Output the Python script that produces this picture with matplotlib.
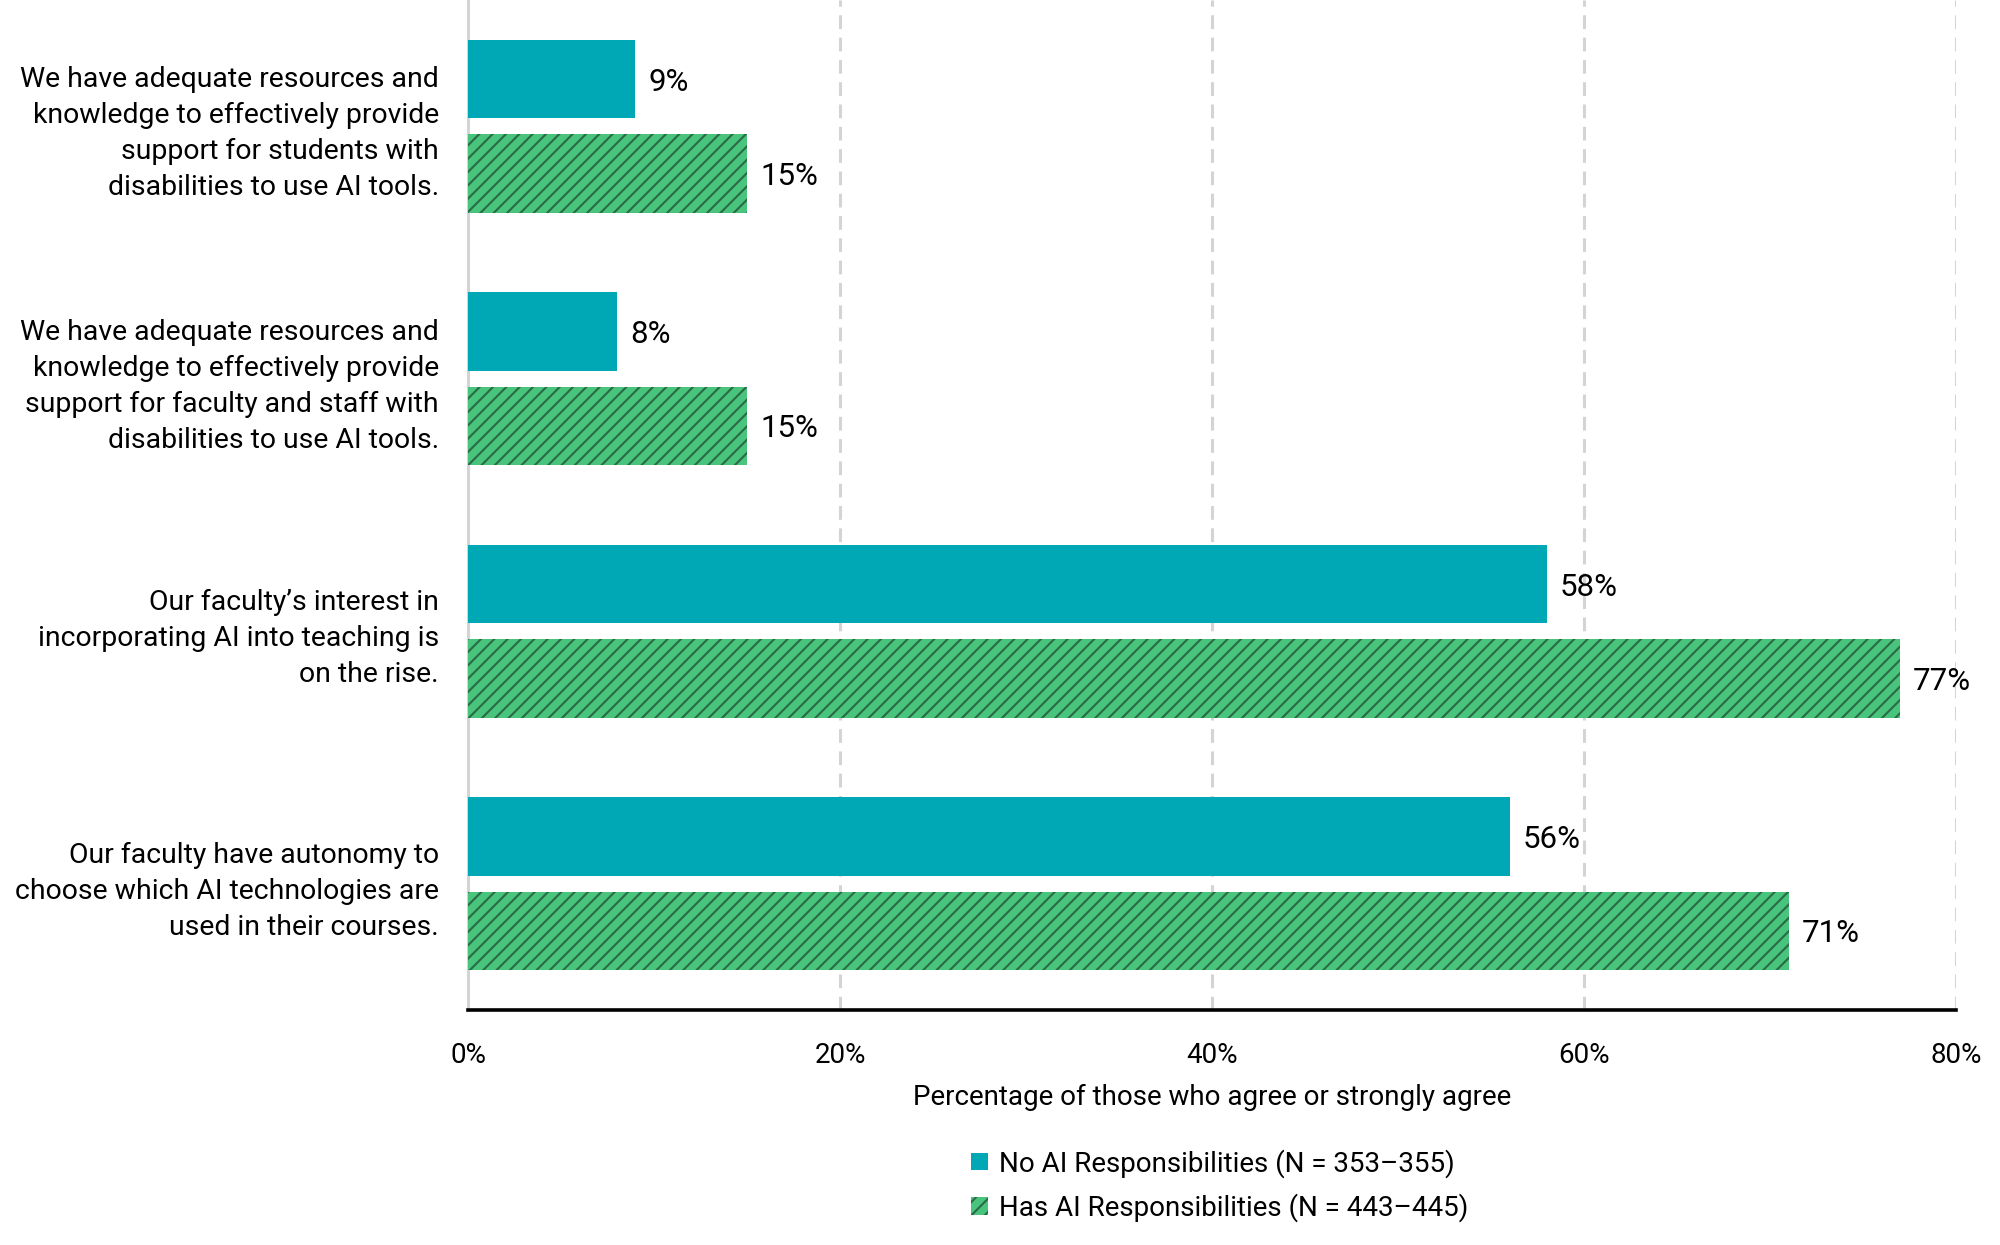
import matplotlib
matplotlib.use("Agg")
import matplotlib.pyplot as plt
import numpy as np
from matplotlib.patches import Patch

plt.rcParams["font.family"] = ["Roboto", "DejaVu Sans"]

# ---------------------------------------------------------------------------
# data
# ---------------------------------------------------------------------------
statements = [
    "We have adequate resources and\nknowledge to effectively provide\nsupport for students with\ndisabilities to use AI tools.",
    "We have adequate resources and\nknowledge to effectively provide\nsupport for faculty and staff with\ndisabilities to use AI tools.",
    "Our faculty\u2019s interest in\nincorporating AI into teaching is\non the rise.",
    "Our faculty have autonomy to\nchoose which AI technologies are\nused in their courses.",
]
no_ai_resp = [9, 8, 58, 56]
has_ai_resp = [15, 15, 77, 71]
series_labels = [
    "No AI Responsibilities (N = 353\u2013355)",
    "Has AI Responsibilities (N = 443\u2013445)",
]
x_ticks = [0, 20, 40, 60, 80]

TEAL = "#00A8B5"
GREEN = "#48C47C"
HATCH_DARK = "#2A6A45"

# drawn at 80 dpi so the hatch spacing comes out close to the reference;
# every size in points is scaled up to keep the pixel sizes
DPI = 80
S = 100 / DPI

plt.rcParams["hatch.color"] = HATCH_DARK
plt.rcParams["hatch.linewidth"] = 1.5 * S

fig = plt.figure(figsize=(2000 / DPI, 1245 / DPI), dpi=DPI)
ax = fig.add_axes([0.234, 0.1888, 0.744, 0.8112])

y = np.arange(len(statements))
bar_h = 0.31
offset = 0.187

ax.barh(y - offset, no_ai_resp, height=bar_h, color=TEAL, zorder=3)
ax.barh(y + offset, has_ai_resp, height=bar_h, color=GREEN, hatch="//",
        edgecolor=HATCH_DARK, linewidth=0, zorder=3)

for yi, v in zip(y, no_ai_resp):
    ax.text(v + 0.7, yi - offset, f"{v}%", va="center_baseline", ha="left", fontsize=22.5 * S)
for yi, v in zip(y, has_ai_resp):
    ax.text(v + 0.7, yi + offset, f"{v}%", va="center_baseline", ha="left", fontsize=22.5 * S)

ax.set_xlim(0, 80)
ax.set_ylim(3.5, -0.5)
ax.set_xticks(x_ticks)
ax.set_xticklabels([f"{t}%" for t in x_ticks], fontsize=20 * S)
ax.set_yticks(y)
ax.set_yticklabels(statements, fontsize=20.4 * S, ha="right", linespacing=1.43)
ax.tick_params(axis="both", length=0)
ax.tick_params(axis="x", pad=23 * S)
ax.tick_params(axis="y", pad=21 * S)

ax.set_xlabel("Percentage of those who agree or strongly agree", fontsize=20 * S, labelpad=11 * S)

for t in x_ticks[1:]:
    ax.axvline(t, color="#D4D4D4", linewidth=2.2 * S, linestyle=(0, (4.5, 2.8)), zorder=1)

for side in ["top", "right"]:
    ax.spines[side].set_visible(False)
ax.spines["left"].set_color("#D4D4D4")
ax.spines["left"].set_linewidth(2.2 * S)
ax.spines["bottom"].set_color("black")
ax.spines["bottom"].set_linewidth(2.6 * S)
ax.spines["bottom"].set_zorder(4)

handles = [
    Patch(facecolor=TEAL, edgecolor="none"),
    Patch(facecolor=GREEN, edgecolor=HATCH_DARK, hatch="//", linewidth=0),
]
ax.legend(handles, series_labels, loc="upper center", bbox_to_anchor=(0.505, -0.113),
          frameon=False, fontsize=20 * S, handlelength=0.6, handleheight=0.6,
          handletextpad=0.4, labelspacing=0.55)

fig.savefig("out.png", dpi=DPI, facecolor="white")
